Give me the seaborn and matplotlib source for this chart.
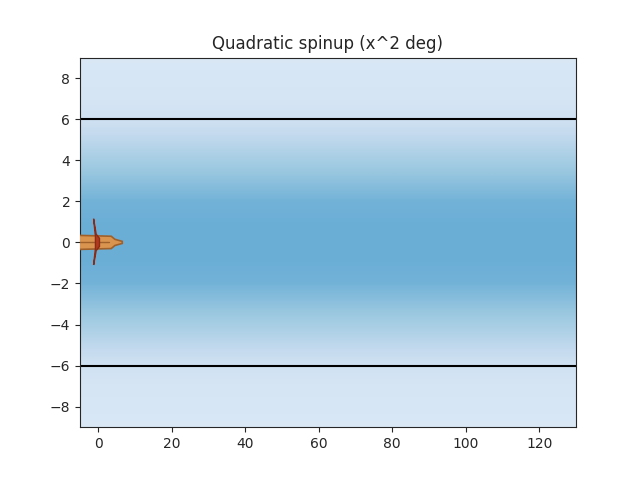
import numpy as np
import matplotlib
matplotlib.use("Agg")
import matplotlib.pyplot as plt
import seaborn as sns
from matplotlib.patches import Polygon

# background shade profile (Blues colormap level vs y)
shade_y = [-9, -7, -6, -4, -2, -1, 0, 1, 2, 4, 6, 7, 9]
shade_v = [0.15, 0.17, 0.2, 0.35, 0.48, 0.5, 0.5, 0.5, 0.48, 0.35, 0.2, 0.17, 0.15]
boundary_y = [-6, 6]
xlim = (-5, 130)
ylim = (-9, 9)

sns.set_style("ticks")
fig, ax = plt.subplots(figsize=(6.4, 4.8), dpi=100)
yy = np.linspace(ylim[0], ylim[1], 400)
img = np.interp(yy, shade_y, shade_v)[:, None]
ax.imshow(img, cmap="Blues", vmin=0, vmax=1, aspect="auto",
          extent=[xlim[0], xlim[1], ylim[0], ylim[1]], origin="lower", zorder=0)
for b in boundary_y:
    ax.axhline(b, color="black", lw=1.5, zorder=2)

# rocket
body = [(-7, 0.35), (3.5, 0.3), (4.5, 0.15), (6.5, 0.05), (6.5, -0.05), (4.5, -0.15), (3.5, -0.3), (-7, -0.35)]
ax.add_patch(Polygon(body, closed=True, facecolor="#d9944f", edgecolor="#a0602a", lw=1.2, zorder=3))
ax.plot([-6, 3], [0, 0], color="#a0602a", lw=1, zorder=4)
fin = [(-1.3, 1.15), (-0.6, 0.4), (0.3, 0.2), (0.3, -0.2), (-0.6, -0.4), (-1.3, -1.1), (-0.8, -0.3), (-0.8, 0.3)]
ax.add_patch(Polygon(fin, closed=True, facecolor="#b03a1e", edgecolor="#8b2a15", lw=1, zorder=5))

ax.set_xlim(*xlim)
ax.set_ylim(*ylim)
ax.set_xticks([0, 20, 40, 60, 80, 100, 120])
ax.set_yticks([-8, -6, -4, -2, 0, 2, 4, 6, 8])
ax.set_title("Quadratic spinup (x^2 deg)")
for s in ax.spines.values():
    s.set_visible(True)
fig.savefig("out.png", dpi=100)
